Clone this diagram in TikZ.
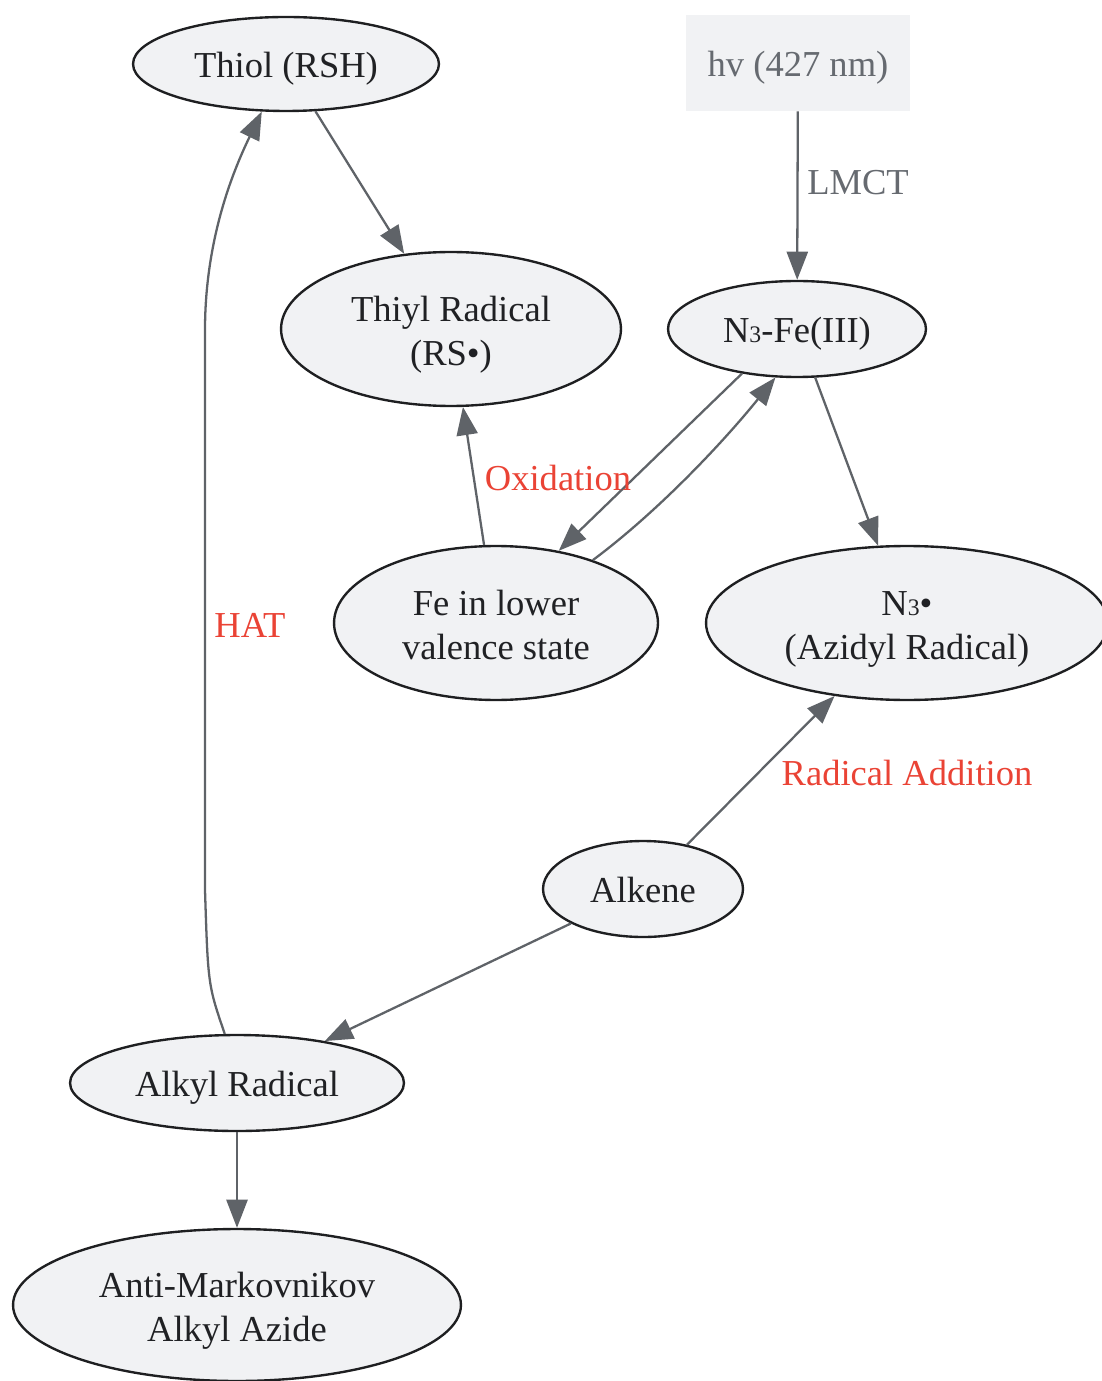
\documentclass[tikz,border=0pt]{standalone}
\usepackage{fontspec}
\setmainfont{Liberation Serif}
\usetikzlibrary{arrows.meta,shapes.geometric}
\definecolor{nodefill}{RGB}{241,242,244}
\definecolor{nodeline}{RGB}{30,31,33}
\definecolor{nodetext}{RGB}{32,33,36}
\definecolor{linkgray}{RGB}{95,99,104}
\definecolor{notegray}{RGB}{102,106,112}
\definecolor{notered}{RGB}{234,67,53}
\newcommand{\Nthree}{N{\fontsize{13.5}{13.5}\selectfont 3}}
\newcommand{\lift}{\rule{0pt}{21pt}}
\newcommand{\sink}{\rule[-4.5pt]{0pt}{0pt}}
\tikzset{
  species/.style={ellipse, draw=nodeline, line width=1.35pt, fill=nodefill,
    inner sep=0pt, align=center, text=nodetext,
    font=\fontsize{20.8}{25.5}\selectfont,
    execute at begin node={\rule{0pt}{19.5pt}}},
  source/.style={rectangle, fill=nodefill, inner sep=0pt, text=notegray,
    minimum width=4.48cm, minimum height=1.92cm,
    font=\fontsize{20.8}{25.5}\selectfont,
    execute at begin node={\rule{0pt}{19.5pt}}},
  link/.style={draw=linkgray, line width=1.3pt,
    -{Triangle[length=16pt,width=12pt]}},
  redlabel/.style={text=notered, font=\fontsize{20.8}{25.5}\selectfont},
  graylabel/.style={text=notegray, font=\fontsize{20.8}{25.5}\selectfont}
}
\begin{document}
\begin{tikzpicture}[x=0.02cm,y=-0.02cm]
  \useasboundingbox (0,0) rectangle (1101,1381);

  % species
  \node[species, minimum width=6.12cm, minimum height=1.88cm] (thiol) at (286,64) {Thiol (RSH)};
  \node[source] (hv) at (798,63) {hv (427 nm)};
  \node[species, minimum width=6.80cm, minimum height=3.08cm] (thiyl) at (451,329) {\lift Thiyl Radical\\(RS•)};
  \node[species, minimum width=5.16cm, minimum height=1.92cm] (n3fe) at (797,329) {\Nthree-Fe(III)};
  \node[species, minimum width=6.48cm, minimum height=3.08cm] (feLow) at (496,623) {\lift Fe in lower\\valence state\sink};
  \node[species, minimum width=8.04cm, minimum height=3.08cm] (azidyl) at (907,623) {\lift\Nthree•\\(Azidyl Radical)};
  \node[species, minimum width=4.00cm, minimum height=1.92cm] (alkene) at (643,889) {Alkene\sink};
  \node[species, minimum width=6.68cm, minimum height=1.92cm] (alkyl) at (237,1083) {Alkyl Radical};
  \node[species, minimum width=8.96cm, minimum height=3.04cm] (anti) at (237,1305) {\lift Anti-Markovnikov\\Alkyl Azide};

  % steps
  \draw[link] (thiol) -- (thiyl);
  \draw[link] (hv) -- (n3fe);
  \draw[link] (n3fe.219) -- (feLow.49);
  \draw[link] (feLow.33) .. controls (660,510) and (725,440) .. (n3fe.246);
  \draw[link] (feLow) -- (thiyl);
  \draw[link] (n3fe) -- (azidyl);
  \draw[link] (alkene) -- (azidyl);
  \draw[link] (alkene) -- (alkyl);
  \draw[link] (alkyl) -- (anti);
  \draw[link] (alkyl.104) .. controls (208,985) .. (205,890) -- (205,330)
    .. controls (205,235) and (236,165) .. (thiol.243);

  % labels
  \node[graylabel] (lmct) at (858,183) {LMCT};
  \node[redlabel] (oxid) at (558,478) {Oxidation};
  \node[redlabel] (radadd) at (907,773) {Radical Addition};
  \node[redlabel] (hat) at (250,625) {HAT};
\end{tikzpicture}
\end{document}
